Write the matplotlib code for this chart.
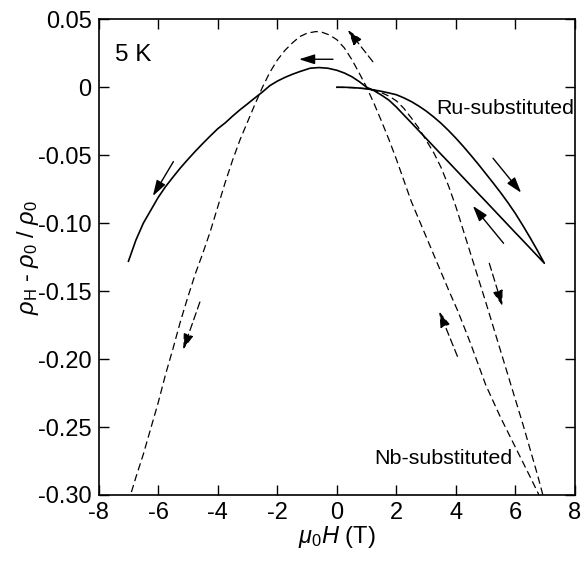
import matplotlib
matplotlib.use("Agg")
import matplotlib.pyplot as plt

plt.rcParams["font.family"] = ["Liberation Sans", "DejaVu Sans"]
plt.rcParams["mathtext.fontset"] = "custom"
plt.rcParams["mathtext.rm"] = "Liberation Sans"
plt.rcParams["mathtext.it"] = "Liberation Sans:italic"
plt.rcParams["axes.unicode_minus"] = False
plt.rcParams["lines.scale_dashes"] = False

# Ru-substituted (solid): 0 -> +7 T, then back +7 -> -7 T
ru_H = [0.0, 0.25, 0.5, 0.75, 1.0, 1.25, 1.5, 1.75, 2.0, 2.25, 2.5, 2.75, 3.0, 3.25,
        3.5, 3.75, 4.0, 4.25, 4.5, 4.75, 5.0, 5.25, 5.5, 5.75, 6.0, 6.25, 6.5, 6.75,
        6.97,
        6.75, 6.5, 6.25, 6.0, 5.75, 5.5, 5.25, 5.0, 4.75, 4.5, 4.25, 4.0, 3.75, 3.5,
        3.25, 3.0, 2.75, 2.5, 2.25, 2.0, 1.75, 1.5, 1.25, 1.0, 0.75, 0.5, 0.25, 0.0,
        -0.3, -0.6, -0.9, -1.25, -1.5, -1.75, -2.0, -2.25, -2.5, -2.75, -3.0, -3.25,
        -3.5, -3.75, -4.0, -4.25, -4.5, -4.75, -5.0, -5.25, -5.5, -5.75, -6.0, -6.25,
        -6.5, -6.75, -7.0]
ru_rho = [0.0, 0.0, -0.0002, -0.0006, -0.0012, -0.002, -0.003, -0.0042, -0.0055,
          -0.0078, -0.0105, -0.0138, -0.0175, -0.0218, -0.0265, -0.0318, -0.0375,
          -0.0436, -0.0500, -0.0566, -0.0635, -0.0704, -0.0775, -0.0850, -0.0930,
          -0.1018, -0.1110, -0.1206, -0.1295,
          -0.1244, -0.1186, -0.1128, -0.1071, -0.1013, -0.0955, -0.0897, -0.0839,
          -0.0782, -0.0724, -0.0666, -0.0608, -0.0550, -0.0493, -0.0435, -0.0377,
          -0.0319, -0.0261, -0.0204, -0.0146, -0.0095, -0.0058, -0.0025, 0.0,
          0.0042, 0.0078, 0.0105, 0.0125,
          0.014, 0.0145, 0.014, 0.0115, 0.0095, 0.0072, 0.0045, 0.0012, -0.0035,
          -0.0078, -0.0122, -0.0165, -0.0212, -0.0262, -0.0305, -0.0358, -0.0413,
          -0.047, -0.0530, -0.0592, -0.0660, -0.0730, -0.0810, -0.0905, -0.1000,
          -0.1125, -0.128]

# Nb-substituted (dashed): 0 -> +7 T
nb_up_H = [0.0, 0.5, 1.0, 1.25, 1.5, 1.75, 2.0, 2.25, 2.5, 2.75, 3.0, 3.25, 3.5,
           3.75, 4.0, 4.25, 4.5, 4.75, 5.0, 5.25, 5.5, 5.75, 6.0, 6.25, 6.5, 6.75,
           6.92, 7.0]
nb_up_rho = [0.0, -0.0003, -0.001, -0.0022, -0.004, -0.0065, -0.010, -0.0155,
             -0.0225, -0.030, -0.039, -0.048, -0.059, -0.0725, -0.088, -0.1055,
             -0.123, -0.1405, -0.158, -0.176, -0.194, -0.212, -0.230, -0.248, -0.267,
             -0.286, -0.300, -0.306]

# Nb-substituted (dashed): +7 -> -7 T
nb_down_H = [7.0, 6.79, 6.5, 6.25, 6.0, 5.75, 5.5, 5.25, 5.0, 4.75, 4.5, 4.25, 4.05,
             3.75, 3.5, 3.25, 3.0, 2.75, 2.5, 2.25, 2.0, 1.75, 1.5, 1.25, 1.0, 0.75,
             0.5, 0.25, 0.0, -0.25, -0.5, -0.7, -1.0, -1.25, -1.5, -1.75, -2.0, -2.25,
             -2.5, -2.75, -3.0, -3.25, -3.5, -3.75, -4.0, -4.25, -4.5, -4.75, -5.0,
             -5.25, -5.5, -5.75, -6.0, -6.25, -6.5, -6.75, -7.0]
nb_down_rho = [-0.31, -0.300, -0.287, -0.276, -0.265, -0.254, -0.243, -0.231, -0.219,
               -0.204, -0.189, -0.175, -0.164, -0.149, -0.136, -0.123, -0.110,
               -0.097, -0.084, -0.0685, -0.053, -0.0385, -0.025, -0.012, 0.0,
               0.0105, 0.0205, 0.029, 0.035, 0.0385, 0.0405, 0.041, 0.0398, 0.0372,
               0.0325, 0.0270, 0.0200, 0.0110, 0.0000, -0.0125, -0.0255, -0.0385,
               -0.0535, -0.070, -0.088, -0.106, -0.122, -0.137, -0.154, -0.172,
               -0.192, -0.211, -0.232, -0.251, -0.270, -0.287, -0.305]

# field-sweep arrows: (start, tip)
solid_arrows = [((-5.49, -0.0547), (-6.18, -0.080)),
                ((-0.13, 0.0206), (-1.27, 0.0206)),
                ((5.245, -0.0522), (6.19, -0.0776)),
                ((5.60, -0.1148), (4.57, -0.0873))]
dashed_arrows = [((1.21, 0.0188), (0.37, 0.0422)),
                 ((5.12, -0.1295), (5.56, -0.161)),
                 ((4.05, -0.198), (3.44, -0.165)),
                 ((-4.6, -0.158), (-5.16, -0.193))]

x_ticks = [-8, -6, -4, -2, 0, 2, 4, 6, 8]
y_ticks = [0.05, 0, -0.05, -0.10, -0.15, -0.20, -0.25, -0.30]
y_tick_labels = ["0.05", "0", "-0.05", "-0.10", "-0.15", "-0.20", "-0.25", "-0.30"]

dash = (0, (5.3, 2.9))

fig = plt.figure(figsize=(5.87, 5.63), dpi=100)
ax = fig.add_axes([0.1681, 0.1208, 0.8115, 0.8449])

ax.plot(ru_H, ru_rho, color="black", lw=1.2)
ax.plot(nb_up_H, nb_up_rho, color="black", lw=0.9, linestyle=dash)
ax.plot(nb_down_H, nb_down_rho, color="black", lw=0.9, linestyle=dash)

for (x0, y0), (x1, y1) in solid_arrows:
    ax.annotate("", xy=(x1, y1), xytext=(x0, y0),
                arrowprops=dict(arrowstyle="-|>,head_length=9.5,head_width=3",
                                mutation_scale=1, lw=1.0, fc="black", ec="black",
                                shrinkA=0, shrinkB=0))
for (x0, y0), (x1, y1) in dashed_arrows:
    ax.annotate("", xy=(x1, y1), xytext=(x0, y0),
                arrowprops=dict(arrowstyle="-|>,head_length=9.5,head_width=3",
                                mutation_scale=1, lw=0.9, fc="black", ec="black",
                                linestyle=dash, shrinkA=0, shrinkB=0))

ax.text(-7.45, 0.0194, "5 K", fontsize=17.5, va="baseline", ha="left")
ax.text(3.34, -0.0199, "Ru-substituted", fontsize=15.4, va="baseline", ha="left")
ax.text(1.27, -0.2774, "Nb-substituted", fontsize=15.4, va="baseline", ha="left")

ax.set_xlim(-8, 8)
ax.set_ylim(-0.30, 0.05)
ax.set_xticks(x_ticks)
ax.set_yticks(y_ticks)
ax.set_yticklabels(y_tick_labels)
ax.tick_params(direction="in", length=7, width=1.0, top=True, right=True,
               labelsize=17, pad=5)
for sp in ax.spines.values():
    sp.set_linewidth(1.2)

ax.set_xlabel(r"$\mu_0H$ (T)", fontsize=17, labelpad=0)
ax.set_ylabel(r"$\rho_{\mathrm{H}}$ - $\rho_0$ / $\rho_0$", fontsize=17, labelpad=-2)

fig.savefig("out.png", dpi=100)
